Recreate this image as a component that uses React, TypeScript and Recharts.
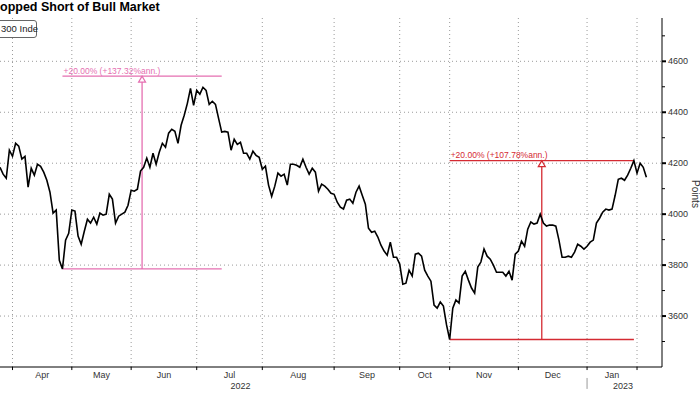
import { LineChart, Line, XAxis, YAxis, CartesianGrid, ReferenceLine, ReferenceDot } from 'recharts';

// x axis is the trading-day index, 0 = first session of Apr 2022
const FIRST_DAY = -4;
const LAST_DAY_SHOWN = 208;

// CSI 300 daily closes
const closes = [
  4184, 4157, 4141, 4251,
  4227, 4278, 4267, 4216, 4227, 4106, 4180, 4153, 4196, 4188,
  4165, 4133, 4086, 4004, 4016, 3819, 3785, 3898, 3925, 4016,
  4012, 3914, 3882, 3933, 3980, 3965, 3988, 3961, 4004, 3996,
  4000, 4078, 4059, 3965, 3992, 4000, 4008, 4035, 4094, 4090,
  4098, 4169, 4184, 4220, 4184, 4239, 4196, 4243, 4278, 4263,
  4318, 4333, 4325, 4278, 4349, 4388, 4435, 4494, 4427, 4486,
  4471, 4498, 4486, 4431, 4443, 4431, 4376, 4322, 4325, 4322,
  4251, 4294, 4274, 4282, 4239, 4239, 4216, 4247, 4231, 4223,
  4176, 4188, 4114, 4070, 4110, 4161, 4149, 4157, 4114, 4196,
  4196, 4192, 4184, 4216, 4184, 4157, 4180, 4165, 4090, 4118,
  4110, 4098, 4082, 4078, 4047, 4027, 4020, 4055, 4059, 4043,
  4086, 4110, 4074, 4039, 3945, 3929, 3933, 3910, 3878, 3855,
  3839, 3890, 3831, 3831, 3804, 3725, 3729, 3780, 3757, 3843,
  3847, 3835, 3780, 3757, 3737, 3643, 3631, 3655, 3639, 3565,
  3508, 3631, 3663, 3651, 3757, 3776, 3741, 3710, 3690, 3792,
  3812, 3863, 3835, 3823, 3800, 3772, 3772, 3772, 3757, 3776,
  3741, 3843, 3855, 3894, 3874, 3941, 3969, 3961, 3965, 4000,
  3965, 3953, 3957, 3957, 3953, 3898, 3831, 3831, 3835, 3831,
  3851, 3882, 3874, 3863, 3874, 3890, 3898, 3965, 3984, 4008,
  4020, 4016, 4020, 4074, 4137, 4141, 4133, 4153, 4180, 4210,
  4161, 4200, 4184, 4145,
];

const monthStarts = [0, 19, 38, 59, 80, 103, 124, 140, 162, 184, 200];
const monthNames = ['Apr', 'May', 'Jun', 'Jul', 'Aug', 'Sep', 'Oct', 'Nov', 'Dec', 'Jan'];
const yearUnder: Record<string, string> = { Jul: '2022', Jan: '2023' };
const yearBreakDay = 184;

const yTicks = [3500, 3600, 3700, 3800, 3900, 4000, 4100, 4200, 4300, 4400, 4500, 4600, 4700];
const yLabelled = [3600, 3800, 4000, 4200, 4400, 4600];

// the two +20% moves marked on the chart
const rallyFrom = [16, 140];
const rallyTo = [67, 199];
const rallyLow = [3785, 3508];
const rallyHigh = [4542, 4210];
const rallyText = ['+20.00% (+137.32%ann.)', '+20.00% (+107.78%ann.)'];

// header texts as they show in the cropped picture
const titleText = 'opped Short of Bull Market';
const legendText = '300 Inde';

const data = closes.map((close, k) => ({ day: FIRST_DAY + k, close }));
const monthMids = monthNames.map((_, k) => (monthStarts[k] + monthStarts[k + 1]) / 2);

const rallyColors = ['#e56fb1', '#d42a32'];
const font = '"Liberation Sans", Arial, sans-serif';

function MonthTick({ x, y, payload }: any) {
  const name = monthNames[monthMids.indexOf(payload.value)];
  const year = yearUnder[name];
  return (
    <g>
      <text x={x} y={y + 11} textAnchor="middle" fontSize={9} fill="#333" fontFamily={font}>{name}</text>
      {year && <text x={x + 11} y={y + 21.5} textAnchor="middle" fontSize={9} fill="#333" fontFamily={font}>{year}</text>}
    </g>
  );
}

function PriceTick({ x, y, payload }: any) {
  const major = yLabelled.includes(payload.value);
  return (
    <g>
      <line x1={x} x2={x + (major ? 4 : 3)} y1={y} y2={y} stroke="#000" strokeWidth={major ? 2 : 1} />
      {major && <text x={x + 6} y={y + 3} fontSize={9} fill="#333" fontFamily={font}>{payload.value}</text>}
    </g>
  );
}

const Triangle = (color: string) => (props: any) => {
  const { cx, cy } = props;
  return <path d={`M${cx},${cy} L${cx - 3.5},${cy + 6} L${cx + 3.5},${cy + 6} Z`} fill="#fff" stroke={color} strokeWidth={1.2} />;
};

export default function App() {
  return (
    <div style={{ position: 'absolute', left: 0, top: 0, width: 700, height: 394, overflow: 'hidden', background: '#fff', fontFamily: font }}>
      <LineChart width={700} height={394} data={data} margin={{ top: 18, right: 0, bottom: 0, left: 0 }}>
        <CartesianGrid stroke="#9a9a9a" strokeDasharray="1 3" verticalValues={monthStarts} horizontalValues={yLabelled} />
        <XAxis
          dataKey="day"
          type="number"
          domain={[FIRST_DAY, LAST_DAY_SHOWN]}
          ticks={monthMids}
          interval={0}
          tick={<MonthTick />}
          tickLine={false}
          tickSize={0}
          tickMargin={0}
          axisLine={{ stroke: '#000' }}
          height={27}
          allowDataOverflow
        />
        <YAxis
          orientation="right"
          width={38}
          domain={[3400, 4770]}
          ticks={yTicks}
          interval={0}
          tick={<PriceTick />}
          tickLine={false}
          tickSize={0}
          tickMargin={0}
          axisLine={{ stroke: '#000' }}
          allowDataOverflow
        />
        {monthStarts.map((d) => (
          <ReferenceLine key={'t' + d} segment={[{ x: d, y: 3400 }, { x: d, y: 3388 }]} stroke="#000" ifOverflow="visible" />
        ))}
        <ReferenceLine segment={[{ x: yearBreakDay, y: 3357 }, { x: yearBreakDay, y: 3314 }]} stroke="#999" ifOverflow="visible" />
        {rallyFrom.map((from, k) => {
          const to = rallyTo[k];
          const mid = (from + to) / 2;
          const c = rallyColors[k];
          return [
            <ReferenceLine
              key={'hi' + k}
              segment={[{ x: from, y: rallyHigh[k] }, { x: to, y: rallyHigh[k] }]}
              stroke={c}
              strokeWidth={1.3}
              label={{
                content: (p: any) => (
                  <text x={p.viewBox.x + 1} y={p.viewBox.y - 2.5} fontSize={8.5} fill={c} fontFamily={font}>{rallyText[k]}</text>
                ),
              }}
            />,
            <ReferenceLine key={'lo' + k} segment={[{ x: from, y: rallyLow[k] }, { x: to, y: rallyLow[k] }]} stroke={c} strokeWidth={1.3} />,
            <ReferenceLine key={'v' + k} segment={[{ x: mid, y: rallyLow[k] }, { x: mid, y: rallyHigh[k] }]} stroke={c} strokeWidth={1.3} />,
            <ReferenceDot key={'a' + k} x={mid} y={rallyHigh[k]} r={4} shape={Triangle(c)} />,
          ];
        })}
        <Line type="linear" dataKey="close" stroke="#000" strokeWidth={1.6} dot={false} isAnimationActive={false} />
      </LineChart>

      <div style={{ position: 'absolute', left: 0, top: 0, fontSize: 12.5, fontWeight: 700, color: '#000', whiteSpace: 'nowrap' }}>
        {titleText}
      </div>
      <div style={{ position: 'absolute', left: -4, top: 20, width: 41, height: 18, border: '1px solid #666', borderRadius: 3, whiteSpace: 'nowrap', fontSize: 9.5, lineHeight: '16px', paddingLeft: 4, boxSizing: 'border-box', color: '#222', background: '#fff' }}>
        {legendText}
      </div>
      <div style={{ position: 'absolute', left: 694.5, top: 194, transform: 'translate(-50%, -50%) rotate(90deg)', fontSize: 10, color: '#333', whiteSpace: 'nowrap' }}>
        Points
      </div>
    </div>
  );
}
